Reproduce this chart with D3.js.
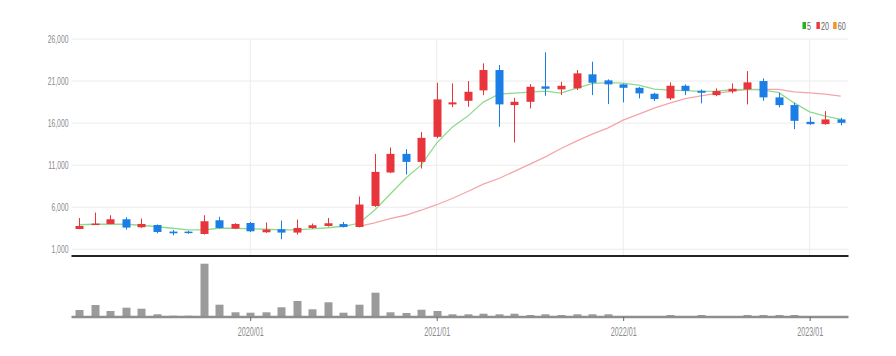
<!DOCTYPE html>
<html><head><meta charset="utf-8">
<script src="https://cdn.jsdelivr.net/npm/d3@7"></script>
<style>
html,body{margin:0;padding:0;background:#fff;}
svg{display:block;font-family:"Liberation Sans",Arial,sans-serif;}
</style></head>
<body><svg id="chart" width="896" height="356"></svg>
<script>
const months = ["2019/02","2019/03","2019/04","2019/05","2019/06","2019/07","2019/08","2019/09","2019/10","2019/11","2019/12",
"2020/01","2020/02","2020/03","2020/04","2020/05","2020/06","2020/07","2020/08","2020/09","2020/10","2020/11","2020/12",
"2021/01","2021/02","2021/03","2021/04","2021/05","2021/06","2021/07","2021/08","2021/09","2021/10","2021/11","2021/12",
"2022/01","2022/02","2022/03","2022/04","2022/05","2022/06","2022/07","2022/08","2022/09","2022/10","2022/11","2022/12",
"2023/01","2023/02","2023/03"];
const openV = [3417,3940,4012,4571,3619,3893,3107,3100,2821,4452,3464,4131,3024,3381,2988,3536,3774,4000,3655,6155,10130,12345,11393,14370,18226,18655,19893,22310,18143,18536,20370,20012,20130,21800,21083,20607,20200,19488,18940,20440,19845,19330,19770,20010,21000,19060,18143,16155,15880,16440];
const highV = [4726,5370,5048,4810,4655,3950,3298,3200,5048,4870,4100,4250,4179,4417,4536,4060,4726,4250,7274,12345,13107,12905,14929,20800,20726,21000,23107,22905,19012,20643,24417,20917,22310,23300,21200,20700,20300,19600,20845,20600,20010,20130,20726,22190,21320,19607,18420,16750,17430,16630];
const lowV = [3400,3900,3976,3345,3550,2905,2667,2850,2750,3450,3400,3050,2950,2190,2750,3450,3700,3600,3600,6030,10050,9893,10607,14200,17905,17940,19330,15560,13700,17750,19250,19330,19930,19330,18260,18460,18940,18620,18740,19330,18345,19200,19536,18226,18655,17870,15286,15800,15800,15730];
const closeV = [3774,4060,4571,3583,4012,3060,2905,2950,4333,3536,4012,3143,3345,2988,3536,3857,4095,3655,6321,10202,12345,11393,14250,18821,18464,19726,22310,18226,18536,20321,20083,20440,21917,20800,20607,20200,19536,18857,20440,19845,19607,19810,20083,20845,19060,18143,16274,15880,16440,16036];
const volumeV = [70,120,60,93,83,27,13,13,533,123,47,43,47,97,160,77,147,43,123,243,47,40,73,60,27,27,33,27,33,20,27,20,27,27,27,10,5,5,20,5,20,5,5,20,20,20,20,10,5,5];
const ma5 = [3917,3976,3976,3976,3857,3679,3500,3321,3321,3500,3500,3440,3381,3321,3321,3440,3560,3738,4095,5643,7548,9453,11000,13619,15524,16833,18500,19452,19571,19690,19810,19571,20167,20702,20821,20762,20524,20048,19929,19869,19774,19810,19965,20012,19929,19655,18400,17345,16833,16440];
const ma20 = [null,null,null,null,null,null,null,null,null,null,null,null,null,null,null,null,null,null,3738,4131,4655,5048,5643,6298,7036,7869,8738,9417,10262,11119,11988,12988,13857,14690,15405,16357,17071,17786,18381,18917,19250,19536,19810,20012,20012,20012,19726,19607,19452,19214];
const yTicks = [1000,6000,11000,16000,21000,26000];
const xTicks = ["2020/01","2021/01","2022/01","2023/01"];
const legendItems = [{label:"5",color:"#22b322"},{label:"20",color:"#ea3a3f"},{label:"60",color:"#f39526"}];

const UP = "#e8343b", DOWN = "#1a7ee6";
const SQ = 0.62;
const svg = d3.select("#chart");
const L = 71.5, R = 848.5;

const x = d3.scalePoint().domain(months).range([L, R]).padding(0.5);
const y = d3.scaleLinear().domain([1000, 26000]).range([249.3, 39]);
const v = d3.scaleLinear().domain([0, 533]).range([317, 263.7]);

function squish(sel, f) {
  sel.each(function(){ const w = this.getComputedTextLength(); d3.select(this).attr("textLength", w*f).attr("lengthAdjust","spacingAndGlyphs"); });
}

// grid
svg.append("g").selectAll("line").data(yTicks).join("line")
  .attr("x1", L).attr("x2", R).attr("y1", d => y(d)).attr("y2", d => y(d))
  .attr("stroke", "#ececec").attr("stroke-width", 1);
svg.append("g").selectAll("line").data(xTicks).join("line")
  .attr("x1", d => x(d)).attr("x2", d => x(d)).attr("y1", 39).attr("y2", 255)
  .attr("stroke", "#ececec").attr("stroke-width", 1);

// y axis labels
const ya = svg.append("g").attr("transform", `translate(${L},0)`)
  .call(d3.axisLeft(y).tickValues(yTicks).tickSize(0).tickPadding(3).tickFormat(d3.format(",")));
ya.select(".domain").remove();
ya.selectAll("text").attr("fill", "#8a8a8a").attr("font-size", 11).attr("font-family","Liberation Sans, Arial, sans-serif");
squish(ya.selectAll("text"), SQ);

// MA lines
const line = d3.line().defined(d => d.v != null).x(d => x(d.m)).y(d => y(d.v));
svg.append("path").datum(months.map((m,i)=>({m, v: ma20[i]})))
  .attr("d", line).attr("fill","none").attr("stroke","#f5a5aa").attr("stroke-width",1.3);
svg.append("path").datum(months.map((m,i)=>({m, v: ma5[i]})))
  .attr("d", line).attr("fill","none").attr("stroke","#8edb8e").attr("stroke-width",1.3);

// candles
const cg = svg.append("g");
const data = months.map((m,i)=>({m, o:openV[i], h:highV[i], l:lowV[i], c:closeV[i], vol:volumeV[i]}));
cg.selectAll("line").data(data).join("line")
  .attr("x1", d => Math.round(x(d.m))+0.5).attr("x2", d => Math.round(x(d.m))+0.5)
  .attr("y1", d => y(d.h)).attr("y2", d => y(d.l))
  .attr("stroke", d => d.c >= d.o ? UP : DOWN).attr("stroke-width", 1);
cg.selectAll("rect").data(data).join("rect")
  .attr("x", d => Math.round(x(d.m)) - 3.5).attr("width", 8)
  .attr("y", d => Math.min(y(d.o), y(d.c)))
  .attr("height", d => Math.max(1.5, Math.abs(y(d.o) - y(d.c))))
  .attr("fill", d => d.c >= d.o ? UP : DOWN);

// separator
svg.append("line").attr("x1", L).attr("x2", R).attr("y1", 256).attr("y2", 256)
  .attr("stroke", "#222").attr("stroke-width", 2);

// volume
svg.append("g").selectAll("rect").data(data).join("rect")
  .attr("x", d => Math.round(x(d.m)) - 3.5).attr("width", 8)
  .attr("y", d => v(d.vol)).attr("height", d => v(0) - v(d.vol))
  .attr("fill", "#9b9b9b");

const xa = svg.append("g").attr("transform", "translate(0,317)")
  .call(d3.axisBottom(x).tickValues(xTicks).tickSize(4).tickPadding(6).tickSizeOuter(0));
xa.select(".domain").attr("stroke", "#8e8e8e").attr("stroke-width", 2.5).attr("d", `M${L},0H${R}`);
xa.selectAll(".tick line").attr("stroke", "#666");
xa.selectAll("text").attr("fill", "#8a8a8a").attr("font-size", 12).attr("font-family","Liberation Sans, Arial, sans-serif");
squish(xa.selectAll("text"), 0.6);

// legend
const lg = svg.append("g");
let lx = 802.5;
legendItems.forEach(it => {
  lg.append("rect").attr("x", lx).attr("y", 22).attr("width", 3.5).attr("height", 7).attr("fill", it.color);
  const t = lg.append("text").attr("x", lx + 4.5).attr("y", 29.5).attr("font-size", 10).attr("fill", "#666").text(it.label);
  squish(t, 0.72);
  lx += 4.5 + t.node().getComputedTextLength()*0.72 + 6.5;
});
</script></body></html>
